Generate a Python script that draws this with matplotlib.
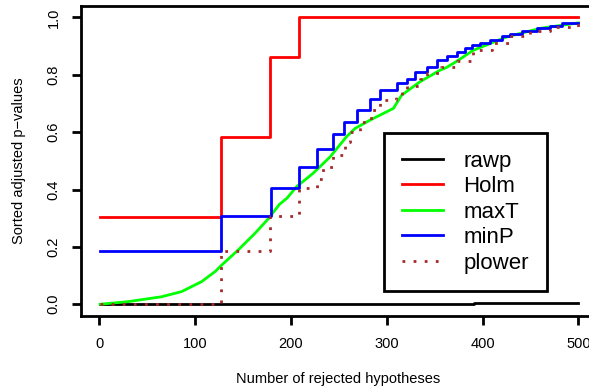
import matplotlib
matplotlib.use("Agg")
import matplotlib.pyplot as plt

# sorted adjusted p-values vs number of rejected hypotheses
rawp_x = [1, 391, 500]
rawp_y = [0.0, 0.005, 0.005]

holm_x = [1, 127, 178, 208, 500]
holm_y = [0.303, 0.584, 0.862, 1.0, 1.0]

maxt_x = [1, 30, 65, 86, 107, 121, 128, 145, 162.5, 177, 188, 196, 206, 223,
          241, 258, 267, 282.6, 307, 315.6, 334.8, 355.6, 362.6, 373, 390,
          425, 460, 500]
maxt_y = [0.0, 0.009, 0.026, 0.044, 0.079, 0.114, 0.137, 0.189, 0.247, 0.300,
          0.348, 0.370, 0.410, 0.456, 0.514, 0.584, 0.613, 0.642, 0.683, 0.729,
          0.776, 0.816, 0.826, 0.847, 0.885, 0.932, 0.962, 0.981]

minp_x = [1, 127, 179, 208, 227, 244, 255.5, 268.7, 282.6, 293, 310.4, 321,
          329.5, 341.8, 352, 363, 373, 381.7, 388.7, 397.4, 407.8, 420, 428.7,
          441, 456.6, 470.5, 482.7, 500]
minp_y = [0.186, 0.309, 0.406, 0.480, 0.540, 0.593, 0.636, 0.677, 0.715, 0.747,
          0.772, 0.787, 0.810, 0.828, 0.851, 0.867, 0.880, 0.895, 0.903, 0.912,
          0.923, 0.935, 0.944, 0.953, 0.962, 0.970, 0.979, 0.979]

plower_x = [1, 127, 178, 208, 227, 234, 244, 257, 262, 272, 284, 293, 310,
            316, 321, 335, 342, 357, 373, 390, 410, 430, 450, 470, 500]
plower_y = [0.0, 0.186, 0.308, 0.406, 0.435, 0.479, 0.520, 0.565, 0.600, 0.636,
            0.677, 0.712, 0.723, 0.741, 0.761, 0.787, 0.808, 0.828, 0.849,
            0.887, 0.910, 0.935, 0.952, 0.967, 0.980]

x_ticks = [0, 100, 200, 300, 400, 500]
y_ticks = [0.0, 0.2, 0.4, 0.6, 0.8, 1.0]

plt.rcParams["font.family"] = ["Liberation Sans", "DejaVu Sans"]

W, H = 589, 388
fig = plt.figure(figsize=(W / 100, H / 100), dpi=100)
# plot region: right edge runs past the image, as in the cropped original
ax = fig.add_axes([81 / W, 1 - 315.7 / H, (597.5 - 81) / W, (315.7 - 6) / H])

lw = 2.0
ax.plot(rawp_x, rawp_y, color="black", lw=lw, drawstyle="steps-post", label="rawp")
ax.plot(holm_x, holm_y, color="#FF0000", lw=lw, drawstyle="steps-post", label="Holm")
ax.plot(maxt_x, maxt_y, color="#00FF00", lw=lw, label="maxT")
ax.plot(minp_x, minp_y, color="#0000FF", lw=lw, drawstyle="steps-post", label="minP")
ax.plot(plower_x, plower_y, color="#A52A2A", lw=lw, linestyle=(0, (1, 3)),
        drawstyle="steps-post", label="plower")

ax.set_xlim(1 - 0.04 * 499, 500 + 0.04 * 499)
ax.set_ylim(-0.04, 1.04)
ax.set_xticks(x_ticks)
ax.set_xticklabels([str(t) for t in x_ticks])
ax.set_yticks(y_ticks)
ax.set_yticklabels([f"{t:.1f}" for t in y_ticks], rotation=90, va="center")

for s in ax.spines.values():
    s.set_linewidth(2)
ax.tick_params(direction="out", length=6.5, width=2, labelsize=10.5, colors="black")
ax.tick_params(axis="x", pad=9)
ax.tick_params(axis="y", pad=8)

fig.text(338 / W, 1 - 379 / H, "Number of rejected hypotheses",
         ha="center", va="center", fontsize=10.5)
fig.text(19 / W, 1 - 160.8 / H, "Sorted adjusted p\u2212values",
         ha="center", va="center", rotation=90, fontsize=10.5)

leg = ax.legend(loc="center", bbox_to_anchor=(465.2 / W, 1 - 212.2 / H),
                bbox_transform=fig.transFigure, fontsize=16,
                handlelength=1.87, handletextpad=0.9, labelspacing=0.2,
                borderpad=0.8, fancybox=False, framealpha=1, borderaxespad=0)
leg.get_frame().set_edgecolor("black")
leg.get_frame().set_linewidth(2)

fig.savefig("out.png", dpi=100)
